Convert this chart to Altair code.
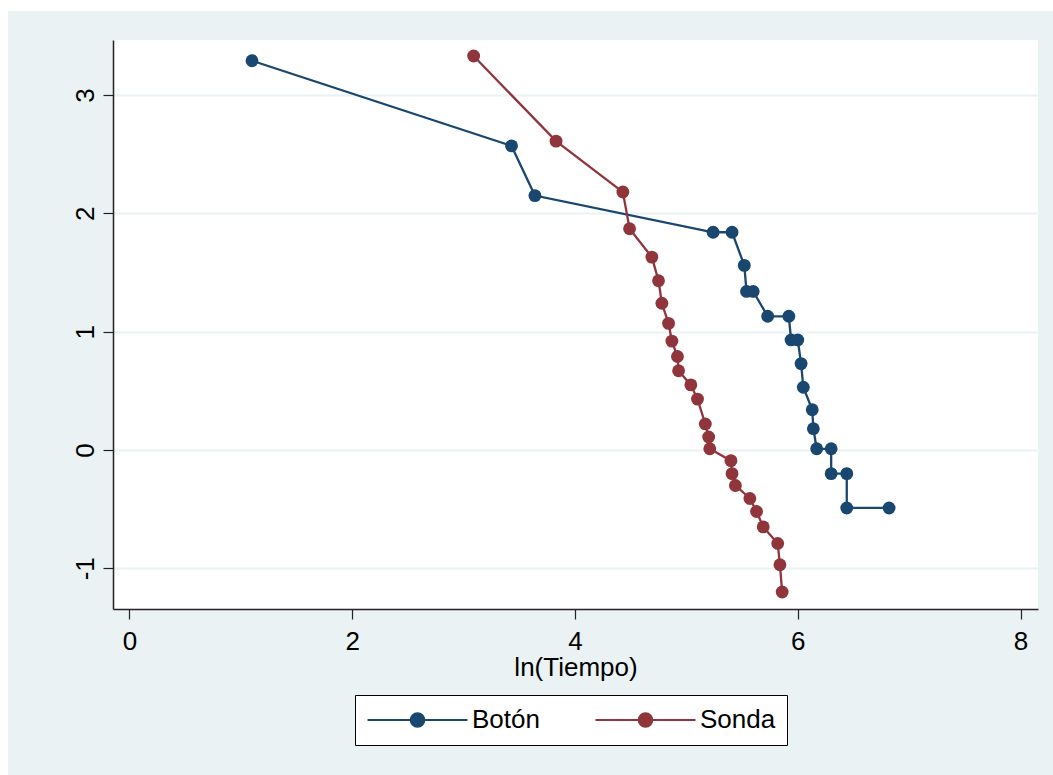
import altair as alt
import pandas as pd

# Botón series (ln(Tiempo), y)
boton_x = [1.10, 3.43, 3.64, 5.24, 5.41, 5.52, 5.54, 5.60, 5.73, 5.92, 5.94,
           6.00, 6.03, 6.05, 6.13, 6.14, 6.17, 6.30, 6.30, 6.44, 6.44, 6.82]
boton_y = [3.29, 2.57, 2.15, 1.84, 1.84, 1.56, 1.34, 1.34, 1.13, 1.13, 0.93,
           0.93, 0.73, 0.53, 0.34, 0.18, 0.01, 0.01, -0.20, -0.20, -0.49, -0.49]

# Sonda series
sonda_x = [3.09, 3.83, 4.43, 4.49, 4.69, 4.75, 4.78, 4.84, 4.87, 4.92, 4.93,
           5.04, 5.10, 5.17, 5.20, 5.21, 5.40, 5.41, 5.44, 5.57, 5.63, 5.69,
           5.82, 5.84, 5.86]
sonda_y = [3.33, 2.61, 2.18, 1.87, 1.63, 1.43, 1.24, 1.07, 0.92, 0.79, 0.67,
           0.55, 0.43, 0.22, 0.11, 0.01, -0.09, -0.20, -0.30, -0.41, -0.52, -0.65,
           -0.79, -0.97, -1.20]

series_names = ["Botón", "Sonda"]
series_colors = ["#1a476f", "#90353b"]
x_ticks = [0, 2, 4, 6, 8]
y_ticks = [-1, 0, 1, 2, 3]

rows = []
for i, (x, y) in enumerate(zip(boton_x, boton_y)):
    rows.append({"serie": "Botón", "x": x, "y": y, "i": i})
for i, (x, y) in enumerate(zip(sonda_x, sonda_y)):
    rows.append({"serie": "Sonda", "x": x, "y": y, "i": i})
df = pd.DataFrame(rows)

FONT = "Liberation Sans"
BG = "#EAF2F3"

legend_path = ("M-1,0L1,0"
               "M-0.134,0A0.134,0.134,0,1,1,0.134,0A0.134,0.134,0,1,1,-0.134,0Z")

color = alt.Color(
    "serie:N",
    scale=alt.Scale(domain=series_names, range=series_colors),
    legend=alt.Legend(
        orient="none", legendX=242, legendY=655, direction="horizontal",
        title=None, symbolType=legend_path, symbolSize=10000,
        symbolStrokeWidth=2.2, clipHeight=28, labelFontSize=26, labelFont=FONT,
        labelColor="black", labelOffset=3, columnPadding=54, padding=11,
        strokeColor="black", fillColor="white", symbolOpacity=1,
    ),
)

xenc = alt.X(
    "x:Q", title="ln(Tiempo)",
    scale=alt.Scale(domain=[-0.148, 8.157], nice=False, zero=False),
    axis=alt.Axis(values=x_ticks, grid=False, tickSize=10, labelPadding=9,
                  labelExpr="'' + datum.value",
                  labelFontSize=26, labelFont=FONT, labelColor="black",
                  titleFontSize=26, titleFont=FONT, titleFontWeight="normal",
                  titleColor="black", titleBaseline="alphabetic", titleY=66,
                  domainColor="#222", tickColor="#222", domainWidth=1.5,
                  tickWidth=1.2, labelFlush=False),
)
yenc = alt.Y(
    "y:Q", title=None,
    scale=alt.Scale(domain=[-1.344, 3.465], nice=False, zero=False),
    axis=alt.Axis(values=y_ticks, grid=True, gridColor=BG, gridWidth=2,
                  tickSize=10, labelPadding=10, labelAngle=270,
                  labelExpr="'' + datum.value",
                  labelAlign="center", labelBaseline="alphabetic",
                  labelFontSize=26, labelFont=FONT, labelColor="black",
                  domainColor="#222", tickColor="#222", domainWidth=1.5,
                  tickWidth=1.2, labelFlush=False),
)

points = alt.Chart(df).mark_circle(size=165, opacity=1).encode(
    x=xenc, y=yenc, color=color
)
lines = alt.Chart(df).mark_line(strokeWidth=2.3).encode(
    x="x:Q", y="y:Q", color="serie:N", order="i:Q"
)

strip_df = pd.DataFrame({"k": [0]})
left_strip = alt.Chart(strip_df).mark_rect(color="white").encode(
    x=alt.value(-113), x2=alt.value(-105), y=alt.value(-40), y2=alt.value(735)
)
top_strip = alt.Chart(strip_df).mark_rect(color="white").encode(
    x=alt.value(-113), x2=alt.value(940), y=alt.value(-40), y2=alt.value(-29)
)

chart = alt.layer(points, lines, left_strip, top_strip).properties(
    width=925, height=569,
    autosize=alt.AutoSizeParams(type="none"),
    padding={"left": 113, "top": 40, "right": 15, "bottom": 166},
    background=BG,
).configure_view(stroke=None, fill="white")

chart.save("out.html", embed_options={"renderer": "svg", "actions": False})
